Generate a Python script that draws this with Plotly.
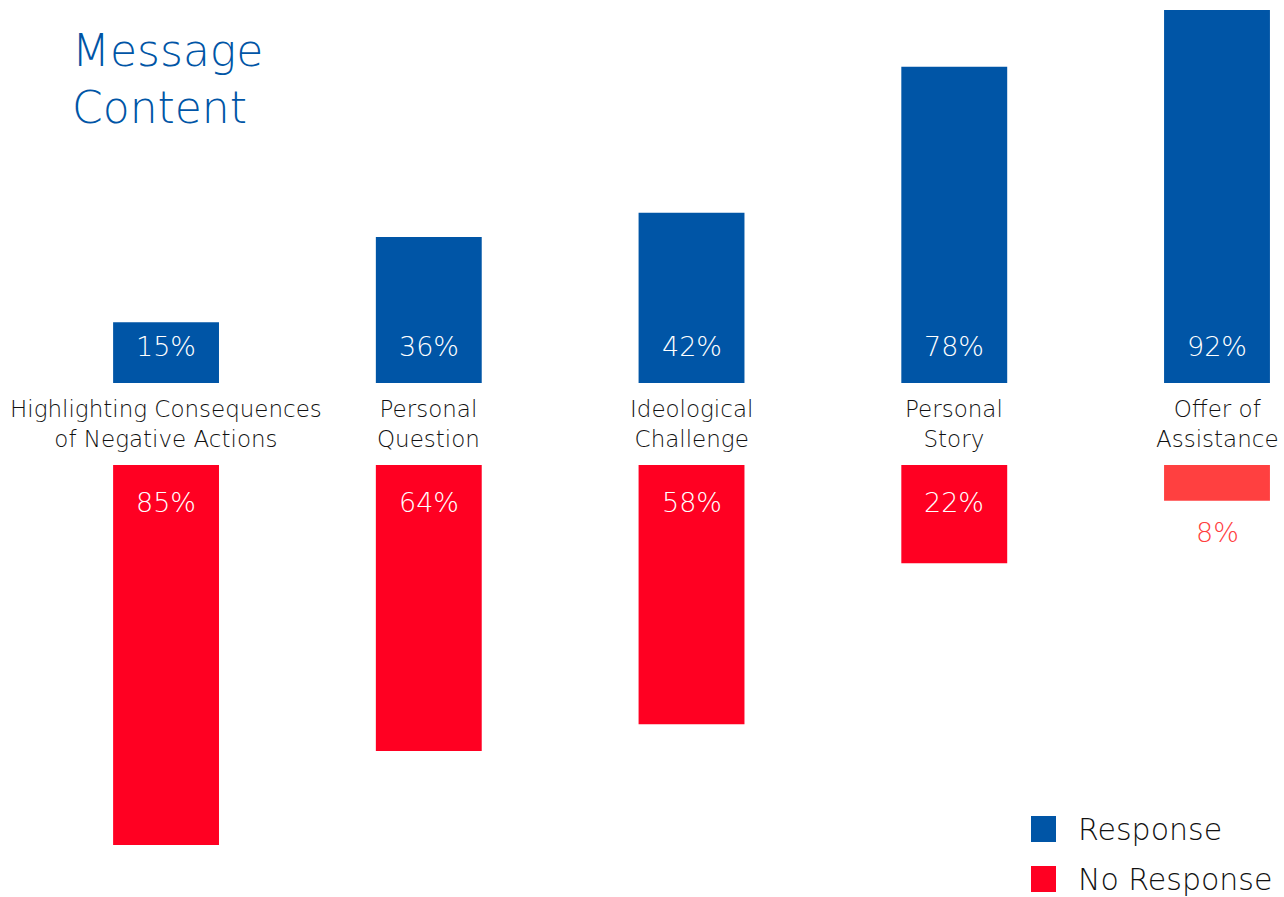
import plotly.graph_objects as go

# ---- data ----
categories = [
    "Highlighting Consequences<br>of Negative Actions",
    "Personal<br>Question",
    "Ideological<br>Challenge",
    "Personal<br>Story",
    "Offer of<br>Assistance",
]
response = [15, 36, 42, 78, 92]
no_response = [85, 64, 58, 22, 8]
series_names = ["Response", "No Response"]
title_text = "Message<br>Content"

# ---- style ----
W, H = 1284, 897
BLUE = "#0055A6"
RED = "#FF0022"
LIGHT_RED = "#FF4040"
INK = "#111111"
FONT = "DejaVu Sans"
WEIGHT = 200
SMALL = 10  # bars below this get the lighter colour and an outside label

def py(px):
    return 1 - px / H

def pxx(px):
    return px / W

cat_ids = list(range(len(categories)))
red_colors = [LIGHT_RED if v < SMALL else RED for v in no_response]

fig = go.Figure()
fig.add_trace(go.Bar(
    x=cat_ids, y=response, width=0.403, marker=dict(color=BLUE, line=dict(width=0)),
    name=series_names[0], xaxis="x", yaxis="y", showlegend=False, hoverinfo="skip"))
fig.add_trace(go.Bar(
    x=cat_ids, y=no_response, width=0.403, marker=dict(color=red_colors, line=dict(width=0)),
    name=series_names[1], xaxis="x", yaxis="y2", showlegend=False, hoverinfo="skip"))

def f(size, color):
    return dict(family=FONT, size=size, color=color, weight=WEIGHT)

annotations = []
# title
annotations.append(dict(text=title_text, x=pxx(70), y=py(23), xref="paper", yref="paper",
                        xanchor="left", yanchor="top", align="left", showarrow=False,
                        font=f(44, BLUE)))
for i, cat in enumerate(categories):
    annotations.append(dict(text=cat, x=i, y=py(424), xref="x", yref="paper",
                            xanchor="center", yanchor="middle", showarrow=False,
                            font=f(23, INK)))
    annotations.append(dict(text=f"{response[i]}%", x=i, y=py(346), xref="x", yref="paper",
                            xanchor="center", yanchor="middle", showarrow=False,
                            font=f(27, "white")))
    v = no_response[i]
    if v < SMALL:
        annotations.append(dict(text=f"{v}%", x=i, y=v, xref="x", yref="y2",
                                xanchor="center", yanchor="top", yshift=-14, showarrow=False,
                                font=f(27, LIGHT_RED)))
    else:
        annotations.append(dict(text=f"{v}%", x=i, y=py(502), xref="x", yref="paper",
                                xanchor="center", yanchor="middle", showarrow=False,
                                font=f(27, "white")))

# legend (drawn manually for large swatches)
shapes = []
for k, (name, col, cy) in enumerate([(series_names[0], BLUE, 829), (series_names[1], RED, 879)]):
    shapes.append(dict(type="rect", xref="paper", yref="paper",
                       x0=pxx(1031), x1=pxx(1056), y0=py(cy + 13), y1=py(cy - 13),
                       fillcolor=col, line=dict(width=0)))
    annotations.append(dict(text=name, x=pxx(1076), y=py(cy), xref="paper", yref="paper",
                            xanchor="left", yanchor="middle", showarrow=False,
                            font=f(30, INK)))

fig.update_layout(
    width=W, height=H,
    margin=dict(l=0, r=0, t=0, b=0),
    paper_bgcolor="white", plot_bgcolor="white",
    barmode="overlay",
    xaxis=dict(range=[-0.632, 4.255], visible=False, fixedrange=True),
    yaxis=dict(domain=[py(383), py(10)], range=[0, max(response)], visible=False),
    yaxis2=dict(domain=[py(845), py(465)], range=[max(no_response), 0], visible=False, anchor="x"),
    annotations=annotations,
    shapes=shapes,
    showlegend=False,
)

fig.write_html("out.html")
